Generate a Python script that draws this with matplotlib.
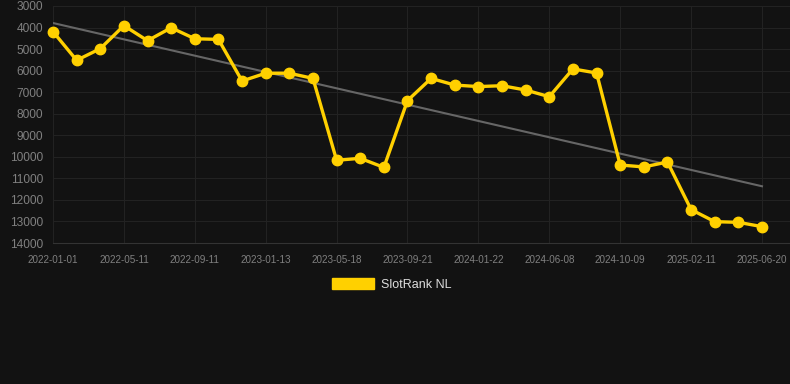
import matplotlib
matplotlib.use("Agg")
import matplotlib.pyplot as plt
from matplotlib.patches import Patch
import numpy as np

plt.rcParams['font.family'] = ['Liberation Sans', 'DejaVu Sans']

tick_labels = ["2022-01-01", "2022-05-11", "2022-09-11", "2023-01-13", "2023-05-18",
               "2023-09-21", "2024-01-22", "2024-06-08", "2024-10-09", "2025-02-11",
               "2025-06-20"]
rank_values = [4190, 5520, 4980, 3910, 4610, 4010, 4520, 4550, 6480, 6120,
               6120, 6360, 10160, 10070, 10490, 7390, 6360, 6670, 6740, 6700,
               6900, 7210, 5920, 6110, 10380, 10470, 10240, 12450, 13010, 13040,
               13240]
series_name = "SlotRank NL"
y_ticks = list(range(3000, 14001, 1000))

bg = "#121212"
yellow = "#FFD000"
grid_c = "#222222"

fig = plt.figure(figsize=(7.9, 3.84), dpi=100, facecolor=bg)
ax = fig.add_axes([53/790, 1-243/384, 1-53/790, (243-6)/384])
ax.set_facecolor(bg)

x = np.arange(len(rank_values))
# trend line (least squares)
coef = np.polyfit(x, rank_values, 1)
ax.plot(x, np.polyval(coef, x), color="#666666", lw=1.5, zorder=2)

ax.plot(x, rank_values, color=yellow, lw=2.4, marker="o", markersize=7.5,
        markerfacecolor=yellow, markeredgecolor=yellow, zorder=3, clip_on=False)

ax.set_ylim(14000, 3000)
ax.set_yticks(y_ticks)
ax.set_yticklabels([str(v) for v in y_ticks])
ax.set_xlim(0, 30 + 28/23.63)
tick_pos = x[::3]
ax.set_xticks(tick_pos)
ax.set_xticklabels(tick_labels)

ax.tick_params(axis='y', colors="#808080", labelsize=8.6, length=0, pad=7)
ax.tick_params(axis='x', colors="#808080", labelsize=7.1, length=0, pad=8.5)
for lbl in ax.get_yticklabels() + ax.get_xticklabels():
    lbl.set_color("#808080")

ax.grid(True, color=grid_c, lw=0.8)
ax.set_axisbelow(True)
for s in ["top", "right", "left"]:
    ax.spines[s].set_visible(False)
ax.spines["bottom"].set_color("#333333")
ax.spines["bottom"].set_linewidth(0.8)

handle = Patch(facecolor=yellow, edgecolor=yellow)
leg = fig.legend([handle], [series_name], loc="center", bbox_to_anchor=(392/790, 1-284.5/384),
                 frameon=False, fontsize=9, handlelength=3.3, handleheight=0.9,
                 labelcolor="#DDDDDD", handletextpad=0.6)

fig.savefig("out.png", dpi=100, facecolor=bg)
